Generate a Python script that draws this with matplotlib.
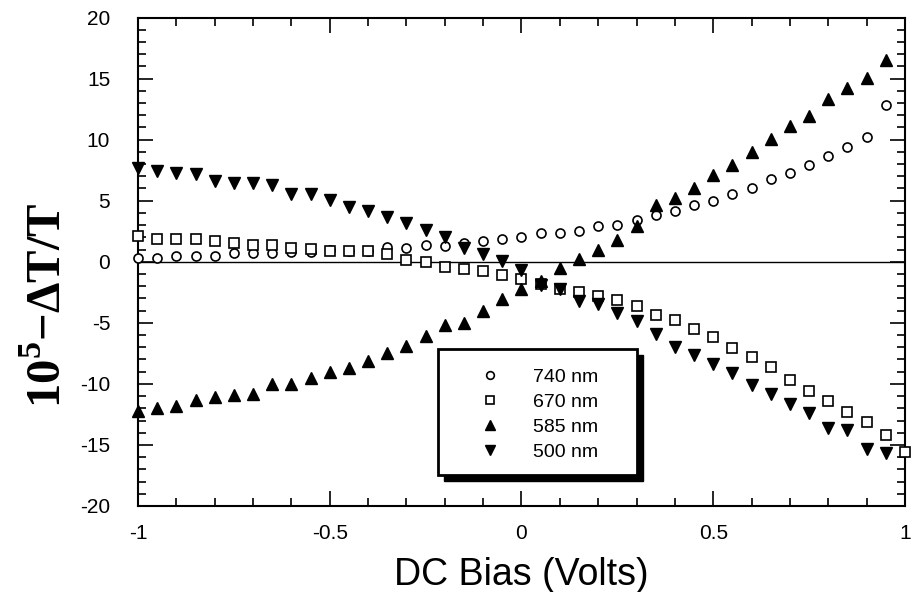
import numpy as np
import matplotlib
matplotlib.use("Agg")
import matplotlib.pyplot as plt
from matplotlib.patches import Rectangle
from matplotlib.ticker import MultipleLocator

plt.rcParams['font.family'] = ['Liberation Sans', 'DejaVu Sans']
plt.rcParams['mathtext.fontset'] = 'custom'
plt.rcParams['mathtext.rm'] = 'Liberation Serif:bold'
plt.rcParams['mathtext.bf'] = 'Liberation Serif:bold'

# DC bias values (Volts)
bias = [-1.0, -0.95, -0.9, -0.85, -0.8, -0.75, -0.7, -0.65, -0.6, -0.55,
        -0.5, -0.45, -0.4, -0.35, -0.3, -0.25, -0.2, -0.15, -0.1, -0.05,
        0.0, 0.05, 0.1, 0.15, 0.2, 0.25, 0.3, 0.35, 0.4, 0.45,
        0.5, 0.55, 0.6, 0.65, 0.7, 0.75, 0.8, 0.85, 0.9, 0.95, 1.0]

# 10^5 -dT/T for each wavelength
s740 = [0.29, 0.29, 0.48, 0.48, 0.48, 0.7, 0.7, 0.7, 0.83, 0.83,
        0.95, 0.9, 0.9, 1.2, 1.15, 1.4, 1.28, 1.52, 1.7, 1.87,
        2.05, 2.34, 2.38, 2.53, 2.9, 3.05, 3.44, 3.8, 4.16, 4.67,
        5.0, 5.55, 6.04, 6.76, 7.27, 7.95, 8.63, 9.37, 10.2, 12.8]
s670 = [2.07, 1.9, 1.9, 1.9, 1.71, 1.52, 1.35, 1.35, 1.16, 1.02,
        0.92, 0.85, 0.85, 0.6, 0.15, 0.0, -0.45, -0.6, -0.72, -1.1,
        -1.45, -1.8, -2.2, -2.47, -2.8, -3.16, -3.65, -4.39, -4.77, -5.48,
        -6.19, -7.07, -7.77, -8.65, -9.69, -10.56, -11.43, -12.3, -13.16, -14.2,
        -15.6]
s585 = [-12.2, -12.0, -11.8, -11.3, -11.1, -10.9, -10.8, -10.0, -10.0, -9.5,
        -9.0, -8.7, -8.1, -7.5, -6.9, -6.1, -5.2, -5.0, -4.0, -3.07,
        -2.2, -1.55, -0.48, 0.2, 0.95, 1.8, 2.9, 4.67, 5.2, 6.04,
        7.07, 7.95, 8.96, 10.06, 11.1, 11.97, 13.36, 14.24, 15.06, 16.5]
s500 = [7.7, 7.46, 7.27, 7.19, 6.58, 6.45, 6.45, 6.25, 5.55, 5.55,
        5.06, 4.48, 4.18, 3.66, 3.2, 2.6, 2.0, 1.1, 0.65, 0.05,
        -0.7, -1.9, -2.2, -3.2, -3.5, -4.2, -4.85, -5.94, -6.98, -7.66,
        -8.4, -9.08, -10.12, -10.86, -11.68, -12.36, -13.65, -13.8, -15.37, -15.7]

labels = ['740 nm', '670 nm', '585 nm', '500 nm']
xticks = [-1, -0.5, 0, 0.5, 1]
xticklabels = ['-1', '-0.5', '0', '0.5', '1']
yticks = [-20, -15, -10, -5, 0, 5, 10, 15, 20]
yticklabels = ['-20', '-15', '-10', '-5', '0', '5', '10', '15', '20']

fig = plt.figure(figsize=(9.15, 5.92), dpi=100)
ax = fig.add_axes([0.1508, 0.1453, 0.8382, 0.8251])

ax.axhline(0, color='black', linewidth=1.0, zorder=1)

ax.plot(bias[:40], s740, 'o', ms=6.5, mfc='white', mec='black', mew=1.2,
        label=labels[0], clip_on=False, zorder=3)
ax.plot(bias, s670, 's', ms=6.5, mfc='white', mec='black', mew=1.2,
        label=labels[1], clip_on=False, zorder=3)
ax.plot(bias[:40], s585, '^', ms=8, color='black',
        label=labels[2], clip_on=False, zorder=4)
ax.plot(bias[:40], s500, 'v', ms=8, color='black',
        label=labels[3], clip_on=False, zorder=4)

ax.set_xlim(-1, 1)
ax.set_ylim(-20, 20)
ax.set_xticks(xticks)
ax.set_xticklabels(xticklabels)
ax.set_yticks(yticks)
ax.set_yticklabels(yticklabels)
ax.xaxis.set_minor_locator(MultipleLocator(0.1))
ax.yaxis.set_minor_locator(MultipleLocator(1))

ax.tick_params(which='both', direction='in', top=True, right=True,
               width=1.2, labelsize=15)
ax.tick_params(which='major', length=11)
ax.tick_params(which='minor', length=6)
ax.tick_params(axis='y', pad=20)
ax.tick_params(axis='x', pad=13)
for sp in ax.spines.values():
    sp.set_linewidth(1.5)

ax.set_xlabel('DC Bias (Volts)', fontsize=27, labelpad=10)
ax.set_ylabel(r'10$^{5}$$-$ΔT/T', fontsize=35, fontfamily='Liberation Serif',
              fontweight='bold')
ax.yaxis.set_label_coords(-0.087, 0.41)

# legend box with solid drop shadow
box = (0.391, 0.0635, 0.2596, 0.2579)
shadow = Rectangle((box[0] + 0.0075, box[1] - 0.0125), box[2], box[3],
                   transform=ax.transAxes, facecolor='black', edgecolor='black',
                   zorder=5)
frame = Rectangle((box[0], box[1]), box[2], box[3], transform=ax.transAxes,
                  facecolor='white', edgecolor='black', linewidth=2, zorder=6)
ax.add_patch(shadow)
ax.add_patch(frame)
leg = ax.legend(loc='upper left', bbox_to_anchor=(0.434, 0.282), frameon=False,
                fontsize=14, numpoints=1, handlelength=2.0, handletextpad=1.2,
                labelspacing=0.38, borderpad=0, borderaxespad=0, markerscale=0.85)
leg.set_zorder(7)

fig.savefig('out.png', dpi=100)
